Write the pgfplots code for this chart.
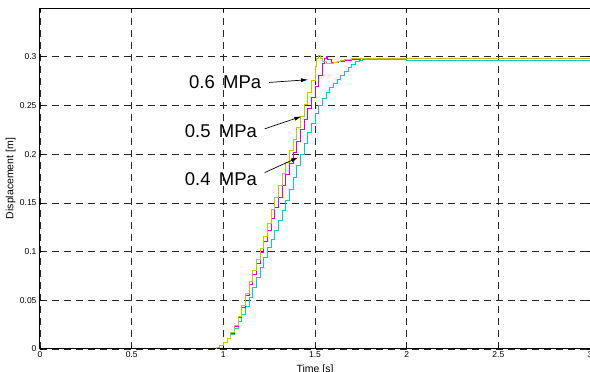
\documentclass[border=0pt]{standalone}
\usepackage{fontspec}
\setmainfont{Liberation Sans}
\usepackage{pgfplots}
\pgfplotsset{compat=1.18}
\usetikzlibrary{arrows.meta}
\definecolor{cyel}{RGB}{195,195,0}
\definecolor{cmag}{RGB}{215,0,215}
\definecolor{ccya}{RGB}{0,200,205}
\begin{document}
\begin{tikzpicture}
\useasboundingbox (-40pt,-23pt) rectangle (550pt,349pt);
\begin{axis}[
  at={(0pt,0pt)}, anchor=south west,
  scale only axis, width=550pt, height=341pt,
  xmin=0, xmax=3, ymin=0, ymax=0.35,
  xtick={0,0.5,1,1.5,2,2.5,3},
  ytick={0,0.05,0.1,0.15,0.2,0.25,0.3},
  xticklabels={0,0.5,1,1.5,2,2.5,3},
  yticklabels={0,0.05,0.1,0.15,0.2,0.25,0.3},
  tick align=inside, major tick length=3pt,
  tick style={black, line width=0.6pt},
  axis line style={black, line width=1pt},
  grid=major,
  major grid style={black!85, line width=0.6pt, dash pattern=on 7pt off 5pt},
  ticklabel style={font=\fontsize{8.5}{9}\selectfont},
  xticklabel style={yshift=1pt},
  /pgf/number format/assume math mode=true,
  xlabel={Time [s]}, ylabel={Displacement [m]},
  label style={font=\fontsize{10.5}{12}\selectfont},
  xlabel style={at={(axis description cs:0.5,-0.035)}, anchor=north},
  ylabel style={at={(axis description cs:-0.038,0.5)}, anchor=south},
  clip=true,
]
% 0.4 MPa
\addplot[const plot, ccya, line width=0.8pt] coordinates {
(0.94,0) (0.96,0.002) (0.98,0.004) (1.00,0.007) (1.02,0.011) (1.04,0.015)
(1.06,0.021) (1.08,0.028) (1.10,0.036) (1.12,0.044) (1.14,0.053) (1.16,0.063)
(1.18,0.073) (1.20,0.084) (1.22,0.094) (1.24,0.104) (1.26,0.113) (1.28,0.122)
(1.30,0.132) (1.32,0.142) (1.34,0.153) (1.36,0.164) (1.38,0.176) (1.40,0.188)
(1.42,0.200) (1.44,0.211) (1.46,0.222) (1.48,0.232) (1.50,0.242) (1.52,0.250)
(1.54,0.257) (1.56,0.263) (1.58,0.268) (1.60,0.273) (1.62,0.277) (1.64,0.281)
(1.66,0.285) (1.68,0.289) (1.70,0.292) (1.72,0.295) (1.74,0.2965) (1.76,0.297)
(2.0,0.2966) (2.5,0.2960) (3.0,0.2958)
};
% 0.5 MPa
\addplot[const plot, cmag, line width=0.8pt] coordinates {
(0.94,0) (0.96,0.002) (0.98,0.004) (1.00,0.007) (1.02,0.011) (1.04,0.016)
(1.06,0.023) (1.08,0.032) (1.10,0.043) (1.12,0.055) (1.14,0.066) (1.16,0.077)
(1.18,0.088) (1.20,0.099) (1.22,0.110) (1.24,0.122) (1.26,0.134) (1.28,0.145)
(1.30,0.156) (1.32,0.168) (1.34,0.179) (1.36,0.190) (1.38,0.202) (1.40,0.213)
(1.42,0.225) (1.44,0.236) (1.46,0.247) (1.48,0.258) (1.50,0.270) (1.52,0.281)
(1.54,0.293) (1.55,0.298) (1.56,0.300) (1.57,0.297) (1.59,0.294) (1.61,0.294)
(1.63,0.295) (1.66,0.296) (1.70,0.297) (1.75,0.2978) (2.5,0.2978) (3.0,0.2978)
};
% 0.6 MPa
\addplot[const plot, cyel, line width=0.8pt] coordinates {
(0.94,0) (0.96,0.002) (0.98,0.004) (1.00,0.007) (1.02,0.011) (1.04,0.017)
(1.06,0.024) (1.08,0.033) (1.10,0.045) (1.12,0.057) (1.14,0.069) (1.16,0.081)
(1.18,0.092) (1.20,0.103) (1.22,0.116) (1.24,0.129) (1.26,0.143) (1.28,0.156)
(1.30,0.168) (1.32,0.180) (1.34,0.192) (1.36,0.204) (1.38,0.215) (1.40,0.227)
(1.42,0.239) (1.44,0.251) (1.46,0.263) (1.48,0.276) (1.50,0.290) (1.51,0.298)
(1.52,0.301) (1.53,0.298) (1.54,0.295) (1.56,0.293) (1.58,0.293) (1.60,0.294)
(1.62,0.295) (1.64,0.296) (1.66,0.297) (1.70,0.2983) (2.5,0.2985) (3.0,0.2985)
};
\node[anchor=east, font=\fontsize{18.5}{21}\selectfont, inner sep=1pt] at (axis cs:1.213,0.274) {0.6\hspace{0.45em}MPa};
\node[anchor=east, font=\fontsize{18.5}{21}\selectfont, inner sep=1pt] at (axis cs:1.19,0.224) {0.5\hspace{0.45em}MPa};
\node[anchor=east, font=\fontsize{18.5}{21}\selectfont, inner sep=1pt] at (axis cs:1.19,0.174) {0.4\hspace{0.45em}MPa};
\draw[-{Latex[length=7pt,width=4pt]}, line width=0.7pt] (axis cs:1.250,0.2736) -- (axis cs:1.462,0.2764);
\draw[-{Latex[length=7pt,width=4pt]}, line width=0.7pt] (axis cs:1.226,0.226) -- (axis cs:1.426,0.2387);
\draw[-{Latex[length=7pt,width=4pt]}, line width=0.7pt] (axis cs:1.226,0.1811) -- (axis cs:1.408,0.1966);
\end{axis}
\end{tikzpicture}
\end{document}
